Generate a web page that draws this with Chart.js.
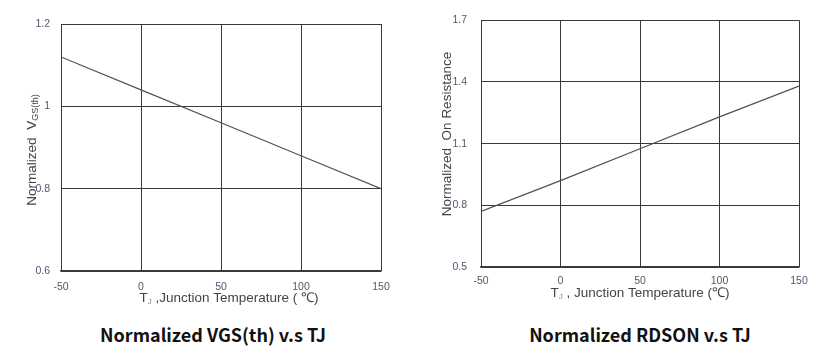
<!DOCTYPE html>
<html>
<head>
<meta charset="utf-8">
<script src="https://cdn.jsdelivr.net/npm/chart.js@4/dist/chart.umd.min.js"></script>
<style>
  html, body { margin: 0; padding: 0; background: #fff; }
  body { width: 818px; height: 355px; position: relative; overflow: hidden; }
  canvas { position: absolute; top: 0; }
  #c1 { left: 0; }
  #c2 { left: 410px; }
  .ttl { position: absolute; font-family: "Noto Sans CJK SC", "Noto Sans", sans-serif; font-weight: bold;
         font-size: 18px; color: #111; white-space: nowrap; transform: translate(-50%, -50%); }
</style>
</head>
<body>
<canvas id="c1" width="410" height="310"></canvas>
<canvas id="c2" width="408" height="310"></canvas>
<div class="ttl" style="left:213px; top:334px;">Normalized VGS(th) v.s TJ</div>
<div class="ttl" style="left:640px; top:334px;">Normalized RDSON v.s TJ</div>
<script>
// ---- data ----
const temps = [-50, 0, 50, 100, 150];
const vgsValues = [1.12, 1.04, 0.96, 0.88, 0.80];
const rdsonValues = [0.77, 0.92, 1.075, 1.23, 1.38];
const xTickLabels = [-50, 0, 50, 100, 150];
const vgsTickLabels = [0.6, 0.8, 1, 1.2];
const rdsonTickLabels = [0.5, 0.8, 1.1, 1.4, 1.7];

const FONT = '"Liberation Sans", Arial, sans-serif';
const TICK_COLOR = '#5e4f70';
const TITLE_COLOR = '#444';
const GRID = '#3a3a3a';

function drawSubText(ctx, parts, cx, cy, rotate) {
  ctx.save();
  ctx.translate(cx, cy);
  if (rotate) ctx.rotate(-Math.PI / 2);
  ctx.textBaseline = 'middle';
  ctx.textAlign = 'left';
  let total = 0;
  parts.forEach(p => { ctx.font = p.size + 'px ' + FONT; p.w = ctx.measureText(p.text).width; total += p.w; });
  let x = -total / 2;
  parts.forEach(p => {
    ctx.font = p.size + 'px ' + FONT;
    ctx.fillStyle = p.color || TITLE_COLOR;
    ctx.fillText(p.text, x, p.sub ? 4 : 0);
    x += p.w;
  });
  ctx.restore();
}

function makeChart(id, values, yTicks, cfg) {
  const titlePlugin = {
    id: 'axisTitles',
    afterDraw(chart) {
      const ctx = chart.ctx;
      drawSubText(ctx, cfg.yTitle, cfg.yTitlePos[0], cfg.yTitlePos[1], true);
      drawSubText(ctx, cfg.xTitle, cfg.xTitlePos[0], cfg.xTitlePos[1], false);
    }
  };
  return new Chart(document.getElementById(id), {
    type: 'line',
    data: {
      datasets: [{
        data: temps.map((t, i) => ({ x: t, y: values[i] })),
        borderColor: '#505050',
        borderWidth: 1.2,
        pointRadius: 0,
        tension: 0,
        fill: false
      }]
    },
    options: {
      responsive: false,
      devicePixelRatio: 1,
      animation: false,
      events: [],
      layout: { padding: cfg.padding },
      plugins: { legend: { display: false }, tooltip: { enabled: false }, title: { display: false } },
      scales: {
        x: {
          type: 'linear',
          min: xTickLabels[0], max: xTickLabels[xTickLabels.length - 1],
          afterBuildTicks: s => { s.ticks = xTickLabels.map(v => ({ value: v })); },
          afterFit: s => { s.height = cfg.xHeight; },
          grid: { color: GRID, lineWidth: 1, drawTicks: false },
          border: { display: true, color: GRID, width: 1.5 },
          ticks: { color: TICK_COLOR, font: { family: FONT, size: 10.5 }, padding: cfg.xPad, maxRotation: 0, autoSkip: false,
                   callback: v => String(v) }
        },
        y: {
          type: 'linear',
          min: yTicks[0], max: yTicks[yTicks.length - 1],
          afterBuildTicks: s => { s.ticks = yTicks.map(v => ({ value: v })); },
          afterFit: s => { s.width = cfg.yWidth; },
          grid: { color: GRID, lineWidth: 1, drawTicks: false },
          border: { display: true, color: GRID, width: 1 },
          ticks: { color: TICK_COLOR, font: { family: FONT, size: 10.5 }, padding: cfg.yPad, autoSkip: false,
                   callback: v => String(v) }
        }
      }
    },
    plugins: [titlePlugin]
  });
}

makeChart('c1', vgsValues, vgsTickLabels, {
  padding: { left: 0, right: 29, top: 24, bottom: 0 },
  xHeight: 39, yWidth: 61, xPad: 10, yPad: 11,
  yTitle: [{ text: 'Normalized  V', size: 13.5 }, { text: 'GS(th)', size: 9, sub: true }],
  yTitlePos: [32, 150],
  xTitle: [{ text: 'T', size: 13.5 }, { text: 'J', size: 8, sub: true, color: '#7a8a99' }, { text: ' ,Junction Temperature ( \u2103)', size: 13.5 }],
  xTitlePos: [229, 298]
});

makeChart('c2', rdsonValues, rdsonTickLabels, {
  padding: { left: 0, right: 19, top: 15, bottom: 0 },
  xHeight: 43, yWidth: 71, xPad: 8, yPad: 14,
  yTitle: [{ text: 'Normalized  On Resistance', size: 13.5 }],
  yTitlePos: [37, 134],
  xTitle: [{ text: 'T', size: 13.5 }, { text: 'J', size: 8, sub: true, color: '#4a9ab0' }, { text: ' , Junction Temperature (\u2103)', size: 13.5 }],
  xTitlePos: [230, 293]
});
</script>
</body>
</html>
